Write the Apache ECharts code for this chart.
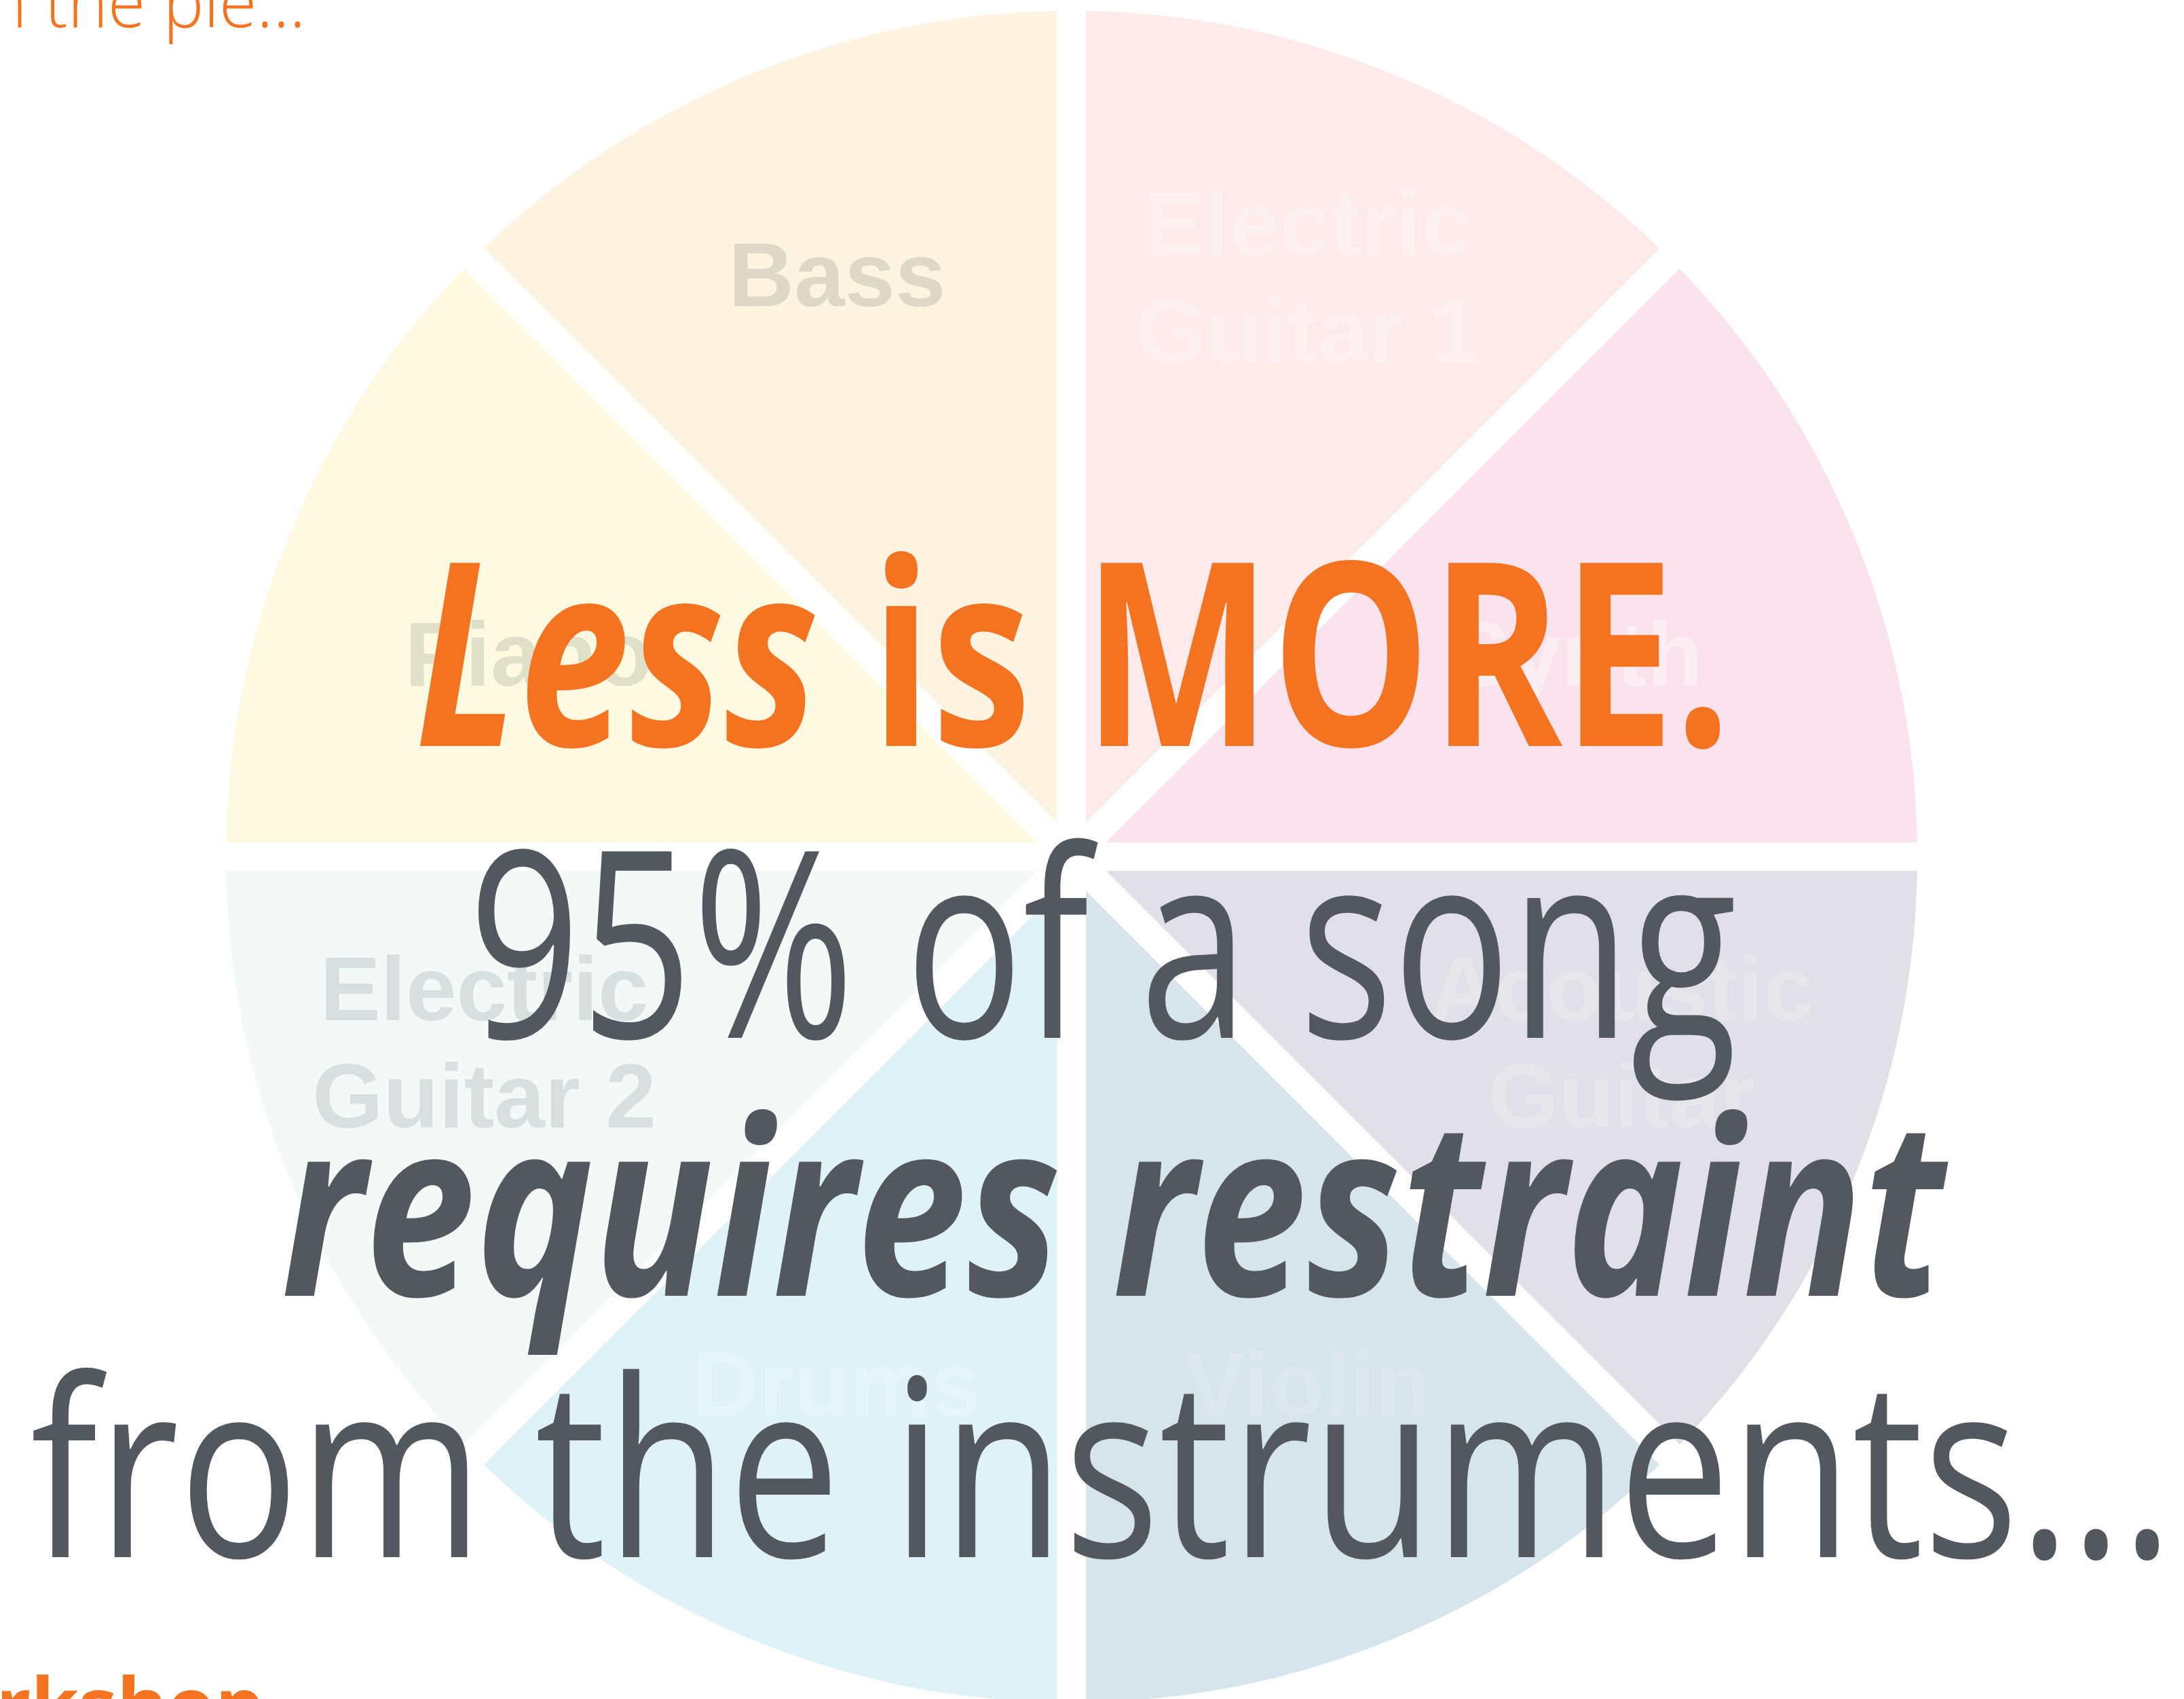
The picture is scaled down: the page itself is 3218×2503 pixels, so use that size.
<!DOCTYPE html>
<html><head><meta charset="utf-8">
<script src="https://cdn.jsdelivr.net/npm/echarts@6/dist/echarts.min.js"></script>
<style>html,body{margin:0;padding:0;background:#fff;overflow:hidden}#c{width:3218px;height:2503px}</style>
</head><body><div id="c"></div>
<script>
// ---- data ----
const instruments = ['Electric\nGuitar 1', 'Synth', 'Acoustic\nGuitar', 'Violin', 'Drums', 'Electric\nGuitar 2', 'Piano', 'Bass'];
const shares = [12.5, 12.5, 12.5, 12.5, 12.5, 12.5, 12.5, 12.5];
const sliceColors = ['#feeaeb', '#fae3ec', '#e0e0e6', '#d6e4ec', '#def2f7', '#f4f9f8', '#fefae2', '#fef4e1'];
const labelColors = ['#fff0f1', '#fdeef4', '#e7e6eb', '#dde8f0', '#e5f5f9', '#d9dede', '#dfdfca', '#dfd8c8'];
// small hand-placement nudges of the slice labels (style, px)
const labelNudges = [[12, -33], [-67, 47], [0, -53], [12, -23], [-10, -23], [-55, -53], [10, 47], [-10, -37]];

const ORANGE = '#f37321';
const GRAY = '#53585f';
const FAMILY = '"Open Sans", "Noto Sans", sans-serif';

const W = 3218, H = 2503;
const CX = 1579, CY = 1262, R = 1267;

const chart = echarts.init(document.getElementById('c'), null, {renderer: 'canvas', width: W, height: H});

// ---- text fitting helpers (layout only) ----
const mctx = document.createElement('canvas').getContext('2d');
function fontStr(style, weight, size) { return style + ' ' + weight + ' ' + size.toFixed(2) + 'px ' + FAMILY; }
function measure(font, text) { mctx.font = font; mctx.textBaseline = 'alphabetic'; return mctx.measureText(text); }
function sizeFor(style, weight, glyph, target) {
  const m = measure(fontStr(style, weight, 100), glyph);
  return 100 * target / m.actualBoundingBoxAscent;
}
function midOffset(font) {
  mctx.font = font; mctx.textBaseline = 'middle'; const a = mctx.measureText('H');
  mctx.textBaseline = 'alphabetic'; const b = mctx.measureText('H');
  return b.actualBoundingBoxAscent - a.actualBoundingBoxAscent;
}
// parts: [{text, style, weight}], fit ink of parts[from..to] into [left,right]
function fitLine(parts, size, left, right, baseline, fill, from, to) {
  if (from === undefined) { from = 0; to = parts.length - 1; }
  const fonts = parts.map(p => fontStr(p.style, p.weight, size));
  const ms = parts.map((p, i) => measure(fonts[i], p.text));
  const adv = []; let acc = 0;
  for (let i = 0; i < parts.length; i++) { adv.push(acc); acc += ms[i].width; }
  const inkL = adv[from] - ms[from].actualBoundingBoxLeft;
  const inkR = adv[to] + ms[to].actualBoundingBoxRight;
  const scale = (right - left) / (inkR - inkL);
  const x0 = left - inkL * scale;
  return parts.map((p, i) => ({
    type: 'text', z: 100, silent: true,
    x: x0 + adv[i] * scale,
    y: baseline - midOffset(fonts[i]),
    scaleX: scale, scaleY: 1,
    style: {text: p.text, font: fonts[i], fill: fill, align: 'left', verticalAlign: 'middle',
            textAlign: 'left', textVerticalAlign: 'middle'}
  }));
}

const graphics = [];
// Line 1
{
  const size = sizeFor('normal', 'bold', 'H', 272);
  graphics.push(...fitLine([
    {text: 'Less', style: 'italic', weight: 'bold'},
    {text: ' is MORE.', style: 'normal', weight: 'bold'}
  ], size, 616, 2536, 1099, ORANGE));
}
// Line 2
{
  const size = sizeFor('normal', 'normal', 'H', 281);
  graphics.push(...fitLine([{text: '95% of a song', style: 'normal', weight: 'normal'}], size, 704, 2556, 1529, GRAY));
}
// Line 3
{
  const size = sizeFor('italic', 'bold', 'x', 199);
  graphics.push(...fitLine([{text: 'requires restraint', style: 'italic', weight: 'bold'}], size, 419, 2873, 1909, GRAY));
}
// Line 4
{
  const size = sizeFor('normal', 'normal', 'x', 197);
  graphics.push(...fitLine([{text: 'from the instruments\u2026', style: 'normal', weight: 'normal'}], size, 45, 3185, 2294, GRAY));
}
// top partial line
{
  const size = sizeFor('normal', '300', 'x', 56);
  graphics.push(...fitLine([
    {text: 'Every instrument wants in on ', style: 'normal', weight: '300'},
    {text: 'the pie\u2026', style: 'normal', weight: '300'}
  ], size, 67, 443, 40, ORANGE, 1, 1));
}
// bottom partial line
{
  const size = 112;
  const kAsc = measure(fontStr('normal', 'bold', size), 'k').actualBoundingBoxAscent;
  graphics.push(...fitLine([
    {text: 'Songwriting Wo', style: 'normal', weight: 'bold'},
    {text: 'rkshop', style: 'normal', weight: 'bold'}
  ], size, 2, 384, 2467 + kAsc, ORANGE, 1, 1));
}

chart.setOption({
  animation: false,
  backgroundColor: '#ffffff',
  series: [
    {
      type: 'pie', center: [CX, CY], radius: [0, R], startAngle: 90, clockwise: true,
      silent: true, z: 1,
      label: {show: false}, labelLine: {show: false},
      itemStyle: {borderColor: '#ffffff', borderWidth: 42},
      emphasis: {disabled: true},
      data: shares.map((v, i) => ({value: v, name: instruments[i], itemStyle: {color: sliceColors[i]}}))
    },
    {
      type: 'pie', center: [CX, CY], radius: [R * 0.38, R], startAngle: 90, clockwise: true,
      silent: true, z: 2,
      itemStyle: {color: 'rgba(0,0,0,0)', borderWidth: 0},
      labelLine: {show: false},
      emphasis: {disabled: true},
      label: {
        show: true, position: 'inside', rotate: 0, formatter: '{b}',
        fontFamily: '"Liberation Sans", Arial, sans-serif', fontWeight: 'bold',
        fontSize: 134, lineHeight: 158, textBorderWidth: 0, align: 'center'
      },
      labelLayout: function (p) { const n = labelNudges[p.dataIndex]; return {dx: n[0], dy: n[1]}; },
      data: shares.map((v, i) => ({value: v, name: instruments[i], label: {color: labelColors[i]}}))
    }
  ],
  graphic: graphics
});
</script>
</body></html>
